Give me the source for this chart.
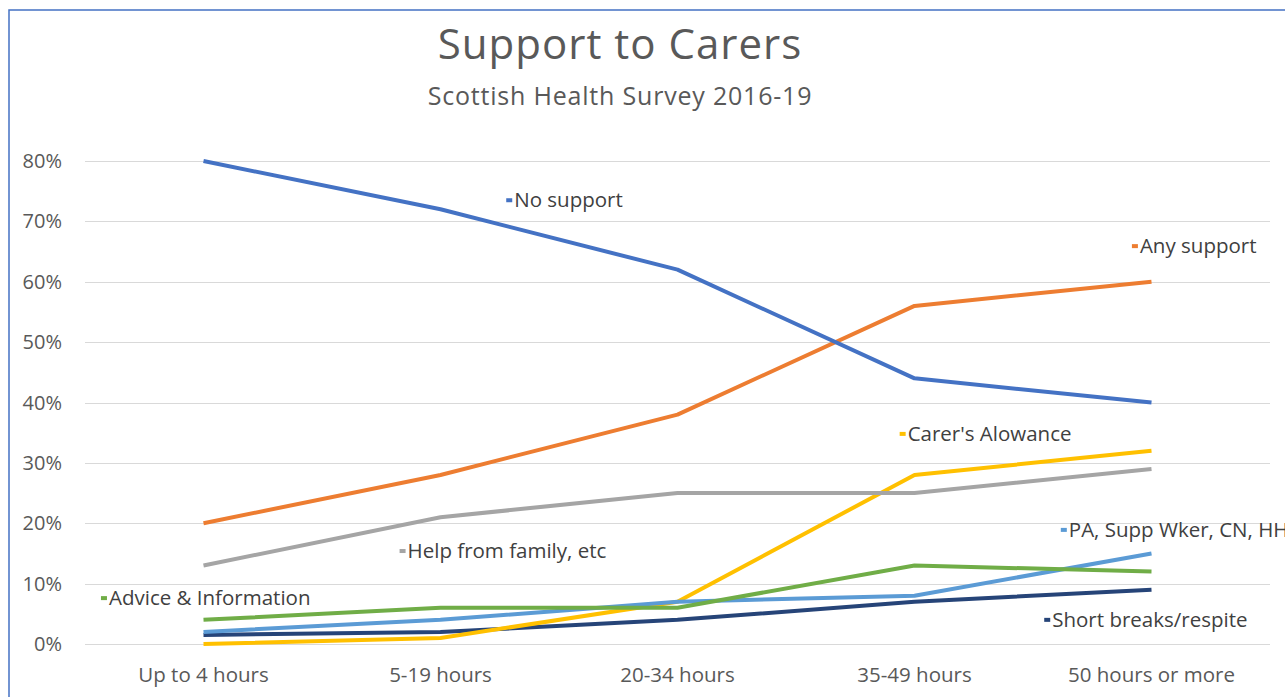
<!DOCTYPE html>
<html lang="en">
  <head>
    <meta charset="UTF-8" />
    <title>Support to Carers</title>
    <script src="https://d3js.org/d3.v7.min.js"></script>
    <style>
      body {
        margin: 0;
        background: #fff;
      }
      svg {
        display: block;
        font-family: "Open Sans", "Noto Sans", sans-serif;
      }
      .grid line {
        stroke: #d9d9d9;
        stroke-width: 1px;
      }
      .tick-label {
        fill: #595959;
      }
      .series {
        fill: none;
        stroke-width: 4px;
        stroke-linejoin: round;
      }
      .series-label {
        fill: #404040;
        font-size: 20.5px;
      }
    </style>
  </head>
  <body>
    <div id="chart"></div>
    <script>
      const width = 1285,
        height = 697;

      // chart data (percent of carers)
      const categories = [
        "Up to 4 hours",
        "5-19 hours",
        "20-34 hours",
        "35-49 hours",
        "50 hours or more",
      ];
      const noSupport = [80, 72, 62, 44, 40];
      const anySupport = [20, 28, 38, 56, 60];
      const helpFamily = [13, 21, 25, 25, 29];
      const carersAllowance = [0, 1, 7, 28, 32];
      const paSupport = [2, 4, 7, 8, 15];
      const adviceInfo = [4, 6, 6, 13, 12];
      const shortBreaks = [1.5, 2, 4, 7, 9];
      const yTicks = [0, 10, 20, 30, 40, 50, 60, 70, 80];

      const seriesList = [
        { name: "Short breaks/respite", values: shortBreaks, color: "#264478", label: [3.56, 4] },
        { name: "Carer's Alowance", values: carersAllowance, color: "#FFC000", label: [2.95, 34.8] },
        { name: "PA, Supp Wker, CN, HH", values: paSupport, color: "#5B9BD5", label: [3.63, 18.9] },
        { name: "Advice & Information", values: adviceInfo, color: "#70AD47", label: [-0.42, 7.6] },
        { name: "Help from family, etc", values: helpFamily, color: "#A5A5A5", label: [0.84, 15.4] },
        { name: "Any support", values: anySupport, color: "#ED7D31", label: [3.93, 65.9] },
        { name: "No support", values: noSupport, color: "#4472C4", label: [1.29, 73.5] },
      ];

      const margin = { left: 85, right: 15, top: 161, bottom: 53 };

      const svg = d3
        .select("#chart")
        .append("svg")
        .attr("width", width)
        .attr("height", height);

      // outer chart frame (runs off the right and bottom edge)
      svg
        .append("rect")
        .attr("x", 9)
        .attr("y", 10)
        .attr("width", width + 20)
        .attr("height", height + 20)
        .attr("fill", "none")
        .attr("stroke", "#4472C4")
        .attr("stroke-width", 1.5);

      const x = d3
        .scaleBand()
        .domain(categories)
        .range([margin.left, width - margin.right]);

      const xi = (i) => x(categories[0]) + x.bandwidth() / 2 + i * x.step();

      const y = d3
        .scaleLinear()
        .domain([0, 80])
        .range([height - margin.bottom, margin.top]);

      // gridlines
      svg
        .append("g")
        .attr("class", "grid")
        .selectAll("line")
        .data(yTicks)
        .join("line")
        .attr("x1", margin.left)
        .attr("x2", width - margin.right)
        .attr("y1", (d) => Math.round(y(d)) + 0.5)
        .attr("y2", (d) => Math.round(y(d)) + 0.5);

      // y axis labels
      svg
        .append("g")
        .selectAll("text")
        .data(yTicks)
        .join("text")
        .attr("class", "tick-label")
        .attr("x", 62)
        .attr("y", (d) => y(d))
        .attr("dy", "0.35em")
        .attr("text-anchor", "end")
        .attr("font-size", 20)
        .text((d) => d + "%");

      // x axis labels
      svg
        .append("g")
        .selectAll("text")
        .data(categories)
        .join("text")
        .attr("class", "tick-label")
        .attr("x", (d) => x(d) + x.bandwidth() / 2)
        .attr("y", 675)
        .attr("dy", "0.35em")
        .attr("text-anchor", "middle")
        .attr("font-size", 20.5)
        .text((d) => d);

      // lines
      const line = d3
        .line()
        .x((d, i) => xi(i))
        .y((d) => y(d));

      svg
        .append("g")
        .selectAll("path")
        .data(seriesList)
        .join("path")
        .attr("class", "series")
        .attr("stroke", (d) => d.color)
        .attr("d", (d) => line(d.values));

      // series labels with small colour marker
      const labels = svg
        .append("g")
        .selectAll("g")
        .data(seriesList)
        .join("g")
        .attr(
          "transform",
          (d) => `translate(${xi(d.label[0])},${y(d.label[1])})`
        );

      labels
        .append("rect")
        .attr("x", -3)
        .attr("y", -2)
        .attr("width", 6)
        .attr("height", 4)
        .attr("fill", (d) => d.color);

      labels
        .append("text")
        .attr("class", "series-label")
        .attr("x", 5)
        .attr("dy", "0.35em")
        .text((d) => d.name);

      // titles
      svg
        .append("text")
        .attr("x", 620)
        .attr("y", 44)
        .attr("dy", "0.35em")
        .attr("text-anchor", "middle")
        .attr("font-size", 42)
        .attr("letter-spacing", 1)
        .attr("fill", "#595959")
        .text("Support to Carers");

      svg
        .append("text")
        .attr("x", 620)
        .attr("y", 96)
        .attr("dy", "0.35em")
        .attr("text-anchor", "middle")
        .attr("font-size", 25)
        .attr("letter-spacing", 0.8)
        .attr("fill", "#595959")
        .text("Scottish Health Survey 2016-19");
    </script>
  </body>
</html>
